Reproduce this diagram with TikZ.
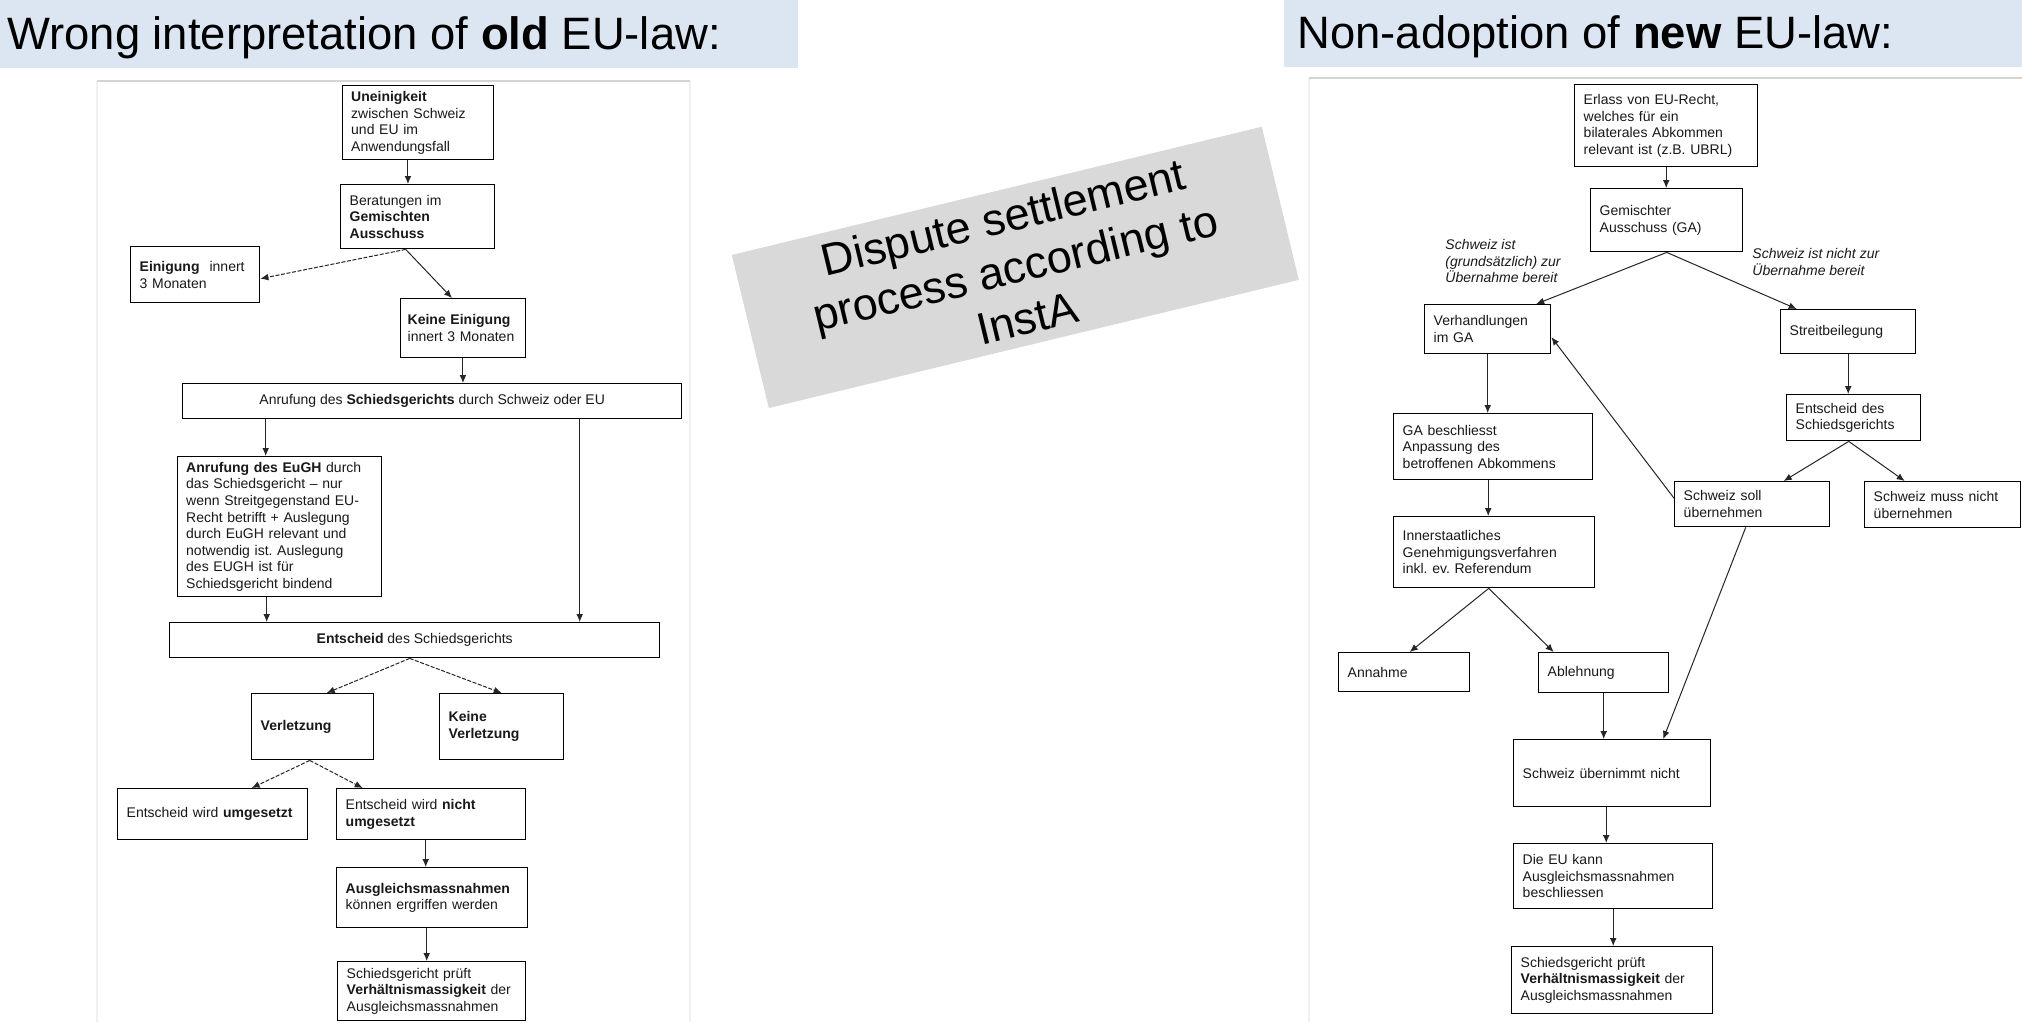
\documentclass[tikz,border=0pt]{standalone}
\usepackage{fontspec}
\setmainfont{Liberation Sans}
\usetikzlibrary{arrows.meta}
\definecolor{bandblue}{HTML}{DCE6F2}
\definecolor{graybox}{HTML}{D9D9D9}
\definecolor{framegray}{HTML}{D4D4D4}
\definecolor{faintgray}{HTML}{F0F0F0}
\frenchspacing
\begin{document}
\begin{tikzpicture}[x=0.5pt,y=-0.5pt,
  flowbox/.style={draw=black, line width=0.7pt, inner xsep=4.5pt, inner ysep=0pt,
    anchor=north west, align=left, font=\fontsize{7}{8.3}\selectfont, text=black!90},
  cbox/.style={flowbox, align=center},
  arr/.style={-{Latex[length=4pt,width=3.4pt]}, line width=0.5pt, draw=black!85},
  dsh/.style={dash pattern=on 2pt off 0.8pt},
  lbl/.style={anchor=north west, align=left, inner sep=0pt, font=\fontsize{7}{8.3}\selectfont\itshape, text=black!90},
  titletext/.style={anchor=base west, inner sep=0pt, font=\fontsize{22.7}{26}\selectfont}]
\useasboundingbox (0,0) rectangle (2022,1022);
\fill[white] (0,0) rectangle (2022,1022);
% title bands
\fill[bandblue] (0,0) rectangle (798,68);
\fill[bandblue] (1284,0) rectangle (2022,67);
\node[titletext] (t1) at (7,50) {Wrong interpretation of \textbf{old} EU-law:};
\node[titletext] (t2) at (1297,49) {Non-adoption of \textbf{new} EU-law:};
% panel frames
\draw[faintgray, line width=0.8pt] (97,81) -- (97,1022);
\draw[faintgray, line width=0.8pt] (690,81) -- (690,1022);
\draw[framegray, line width=0.8pt] (97,81) -- (690,81);
\draw[faintgray, line width=0.8pt] (1309,78) -- (1309,1022);
\draw[framegray, line width=0.8pt] (1309,78) -- (2022,78);
% central rotated box
\node[fill=graybox, rotate=13.6, minimum width=272.65pt, minimum height=78.75pt, align=center,
  inner sep=0pt, font=\fontsize{22.5}{26}\selectfont] (gbox) at (1015.3,267.4)
  {Dispute settlement\\process according to\\InstA};

% ---------------- left diagram ----------------
\node[flowbox, text width=66.75pt, minimum height=37pt] (une) at (341.5,85)
  {\textbf{Uneinigkeit}\\zwischen Schweiz\\und EU im\\Anwendungsfall};
\node[flowbox, text width=68pt, minimum height=32pt] (ber) at (340,184)
  {Beratungen im\\\textbf{Gemischten}\\\textbf{Ausschuss}};
\node[flowbox, text width=55.5pt, minimum height=28pt] (ein) at (130,246)
  {\textbf{Einigung}\hspace{5pt}innert\\3 Monaten};
\node[flowbox, inner xsep=3.5pt, text width=55.25pt, minimum height=29.5pt] (kein) at (400,298)
  {\textbf{Keine Einigung}\\innert 3 Monaten};
\node[cbox, minimum width=249.5pt, minimum height=17.5pt] (anr) at (182,383)
  {Anrufung des \textbf{Schiedsgerichts} durch Schweiz oder EU};
\node[flowbox, text width=93pt, minimum height=70pt] (eugh) at (176.5,456)
  {\textbf{Anrufung des EuGH} durch\\das Schiedsgericht – nur\\wenn Streitgegenstand EU-\\Recht betrifft + Auslegung\\durch EuGH relevant und\\notwendig ist. Auslegung\\des EUGH ist für\\Schiedsgericht bindend};
\node[cbox, minimum width=245pt, minimum height=17.5pt] (ent) at (169,622)
  {\textbf{Entscheid} des Schiedsgerichts};
\node[flowbox, text width=52pt, minimum height=33pt] (verl) at (251,693)
  {\textbf{Verletzung}};
\node[flowbox, text width=53pt, minimum height=33pt] (kverl) at (439,693)
  {\textbf{Keine}\\\textbf{Verletzung}};
\node[flowbox, text width=86pt, minimum height=25.5pt] (umg) at (117,788)
  {Entscheid wird \textbf{umgesetzt}};
\node[flowbox, text width=85.5pt, minimum height=25.5pt] (numg) at (336,788)
  {Entscheid wird \textbf{nicht}\\\textbf{umgesetzt}};
\node[flowbox, text width=86.5pt, minimum height=30pt] (ausg) at (336,867)
  {\textbf{Ausgleichsmassnahmen}\\können ergriffen werden};
\node[flowbox, text width=85pt, minimum height=29.5pt] (pruef) at (337,961)
  {Schiedsgericht prüft\\\textbf{Verhältnismassigkeit} der\\Ausgleichsmassnahmen};

% left connectors
\coordinate (c0) at ([xshift=-5pt]une.south);
\draw[arr] (c0) -- (c0 |- ber.north);
\draw[arr, dsh] ([xshift=-6pt]ber.south) -- ([yshift=-2pt]ein.east);
\draw[arr] ([xshift=-6pt]ber.south) -- ([xshift=-5.5pt]kein.north);
\draw[arr] (kein.south) -- (kein.south |- anr.north);
\coordinate (a1) at ([xshift=-6.75pt]eugh.north);
\draw[arr] (a1 |- anr.south) -- (a1);
\coordinate (a3) at ([xshift=73.75pt]anr.south);
\draw[arr] (a3) -- (a3 |- ent.north);
\coordinate (a2) at ([xshift=-6.25pt]eugh.south);
\draw[arr] (a2) -- (a2 |- ent.north);
\draw[arr, dsh] ([xshift=-2.5pt]ent.south) -- ([xshift=7pt]verl.north);
\draw[arr, dsh] ([xshift=-2.5pt]ent.south) -- (kverl.north);
\draw[arr, dsh] ([xshift=-1.5pt]verl.south) -- ([xshift=19.5pt]umg.north);
\draw[arr, dsh] ([xshift=-1.5pt]verl.south) -- ([xshift=-34.25pt]numg.north);
\coordinate (a4) at ([xshift=-2.75pt]numg.south);
\draw[arr] (a4) -- (a4 |- ausg.north);
\coordinate (a5) at ([xshift=-2.75pt]ausg.south);
\draw[arr] (a5) -- (a5 |- pruef.north);

% ---------------- right diagram ----------------
\node[flowbox, text width=82.5pt, minimum height=41pt] (erl) at (1574,84)
  {Erlass von EU-Recht,\\welches für ein\\bilaterales Abkommen\\relevant ist (z.B. UBRL)};
\node[flowbox, text width=67pt, minimum height=31.5pt] (ga) at (1590,188)
  {Gemischter\\Ausschuss (GA)};
\node[lbl] (lab1) at (1445,239) {Schweiz ist\\(grundsätzlich) zur\\Übernahme bereit};
\node[lbl] (lab2) at (1752,248) {Schweiz ist nicht zur\\Übernahme bereit};
\node[flowbox, text width=54pt, minimum height=24.5pt] (verh) at (1424,304)
  {Verhandlungen\\im GA};
\node[flowbox, text width=58.5pt, minimum height=22pt] (streit) at (1780,309)
  {Streitbeilegung};
\node[flowbox, text width=58pt, minimum height=23pt] (entd) at (1786,394)
  {Entscheid des\\Schiedsgerichts};
\node[flowbox, text width=68.5pt, minimum height=22.5pt] (soll) at (1674,481)
  {Schweiz soll\\übernehmen};
\node[flowbox, text width=69pt, minimum height=23pt] (muss) at (1864,481)
  {Schweiz muss nicht\\übernehmen};
\node[flowbox, text width=90.5pt, minimum height=33pt] (gab) at (1393,413)
  {GA beschliesst\\Anpassung des\\betroffenen Abkommens};
\node[flowbox, text width=91.5pt, minimum height=35.5pt] (inn) at (1393,516)
  {Innerstaatliches\\Genehmigungsverfahren\\inkl. ev. Referendum};
\node[flowbox, text width=56.5pt, minimum height=19.5pt] (ann) at (1338,652)
  {Annahme};
\node[flowbox, text width=56pt, minimum height=20pt] (abl) at (1538,652)
  {Ablehnung};
\node[flowbox, text width=89.5pt, minimum height=33.5pt] (uebn) at (1513,739)
  {Schweiz übernimmt nicht};
\node[flowbox, text width=90.5pt, minimum height=32.5pt] (eu) at (1513,843)
  {Die EU kann\\Ausgleichsmassnahmen\\beschliessen};
\node[flowbox, text width=91.5pt, minimum height=33.5pt] (pruef2) at (1511,946)
  {Schiedsgericht prüft\\\textbf{Verhältnismassigkeit} der\\Ausgleichsmassnahmen};

% right connectors
\draw[arr] (erl.south) -- (erl.south |- ga.north);
\draw[arr] (ga.south) -- ([xshift=24.25pt]verh.north);
\draw[arr] (ga.south) -- ([xshift=-25.75pt]streit.north);
\draw[arr] (verh.south) -- (verh.south |- gab.north);
\draw[arr] (streit.south) -- (streit.south |- entd.north);
\draw[arr] ([xshift=-2.5pt]entd.south) -- ([xshift=15.75pt]soll.north);
\draw[arr] ([xshift=-2.5pt]entd.south) -- ([xshift=-19pt]muss.north);
\draw[arr] ([yshift=3pt]soll.west) -- ([yshift=-4pt]verh.east);
\draw[arr] ([xshift=-3.25pt]soll.south) -- ([xshift=25.5pt]uebn.north);
\coordinate (b1) at ([xshift=-2.5pt]gab.south);
\draw[arr] (b1) -- (b1 |- inn.north);
\draw[arr] ([xshift=-2.75pt]inn.south) -- ([xshift=2.75pt]ann.north);
\draw[arr] ([xshift=-2.75pt]inn.south) -- ([xshift=-25pt]abl.north);
\draw[arr] (abl.south) -- (abl.south |- uebn.north);
\coordinate (b2) at ([xshift=-3pt]uebn.south);
\draw[arr] (b2) -- (b2 |- eu.north);
\draw[arr] (eu.south) -- (eu.south |- pruef2.north);
\end{tikzpicture}
\end{document}
